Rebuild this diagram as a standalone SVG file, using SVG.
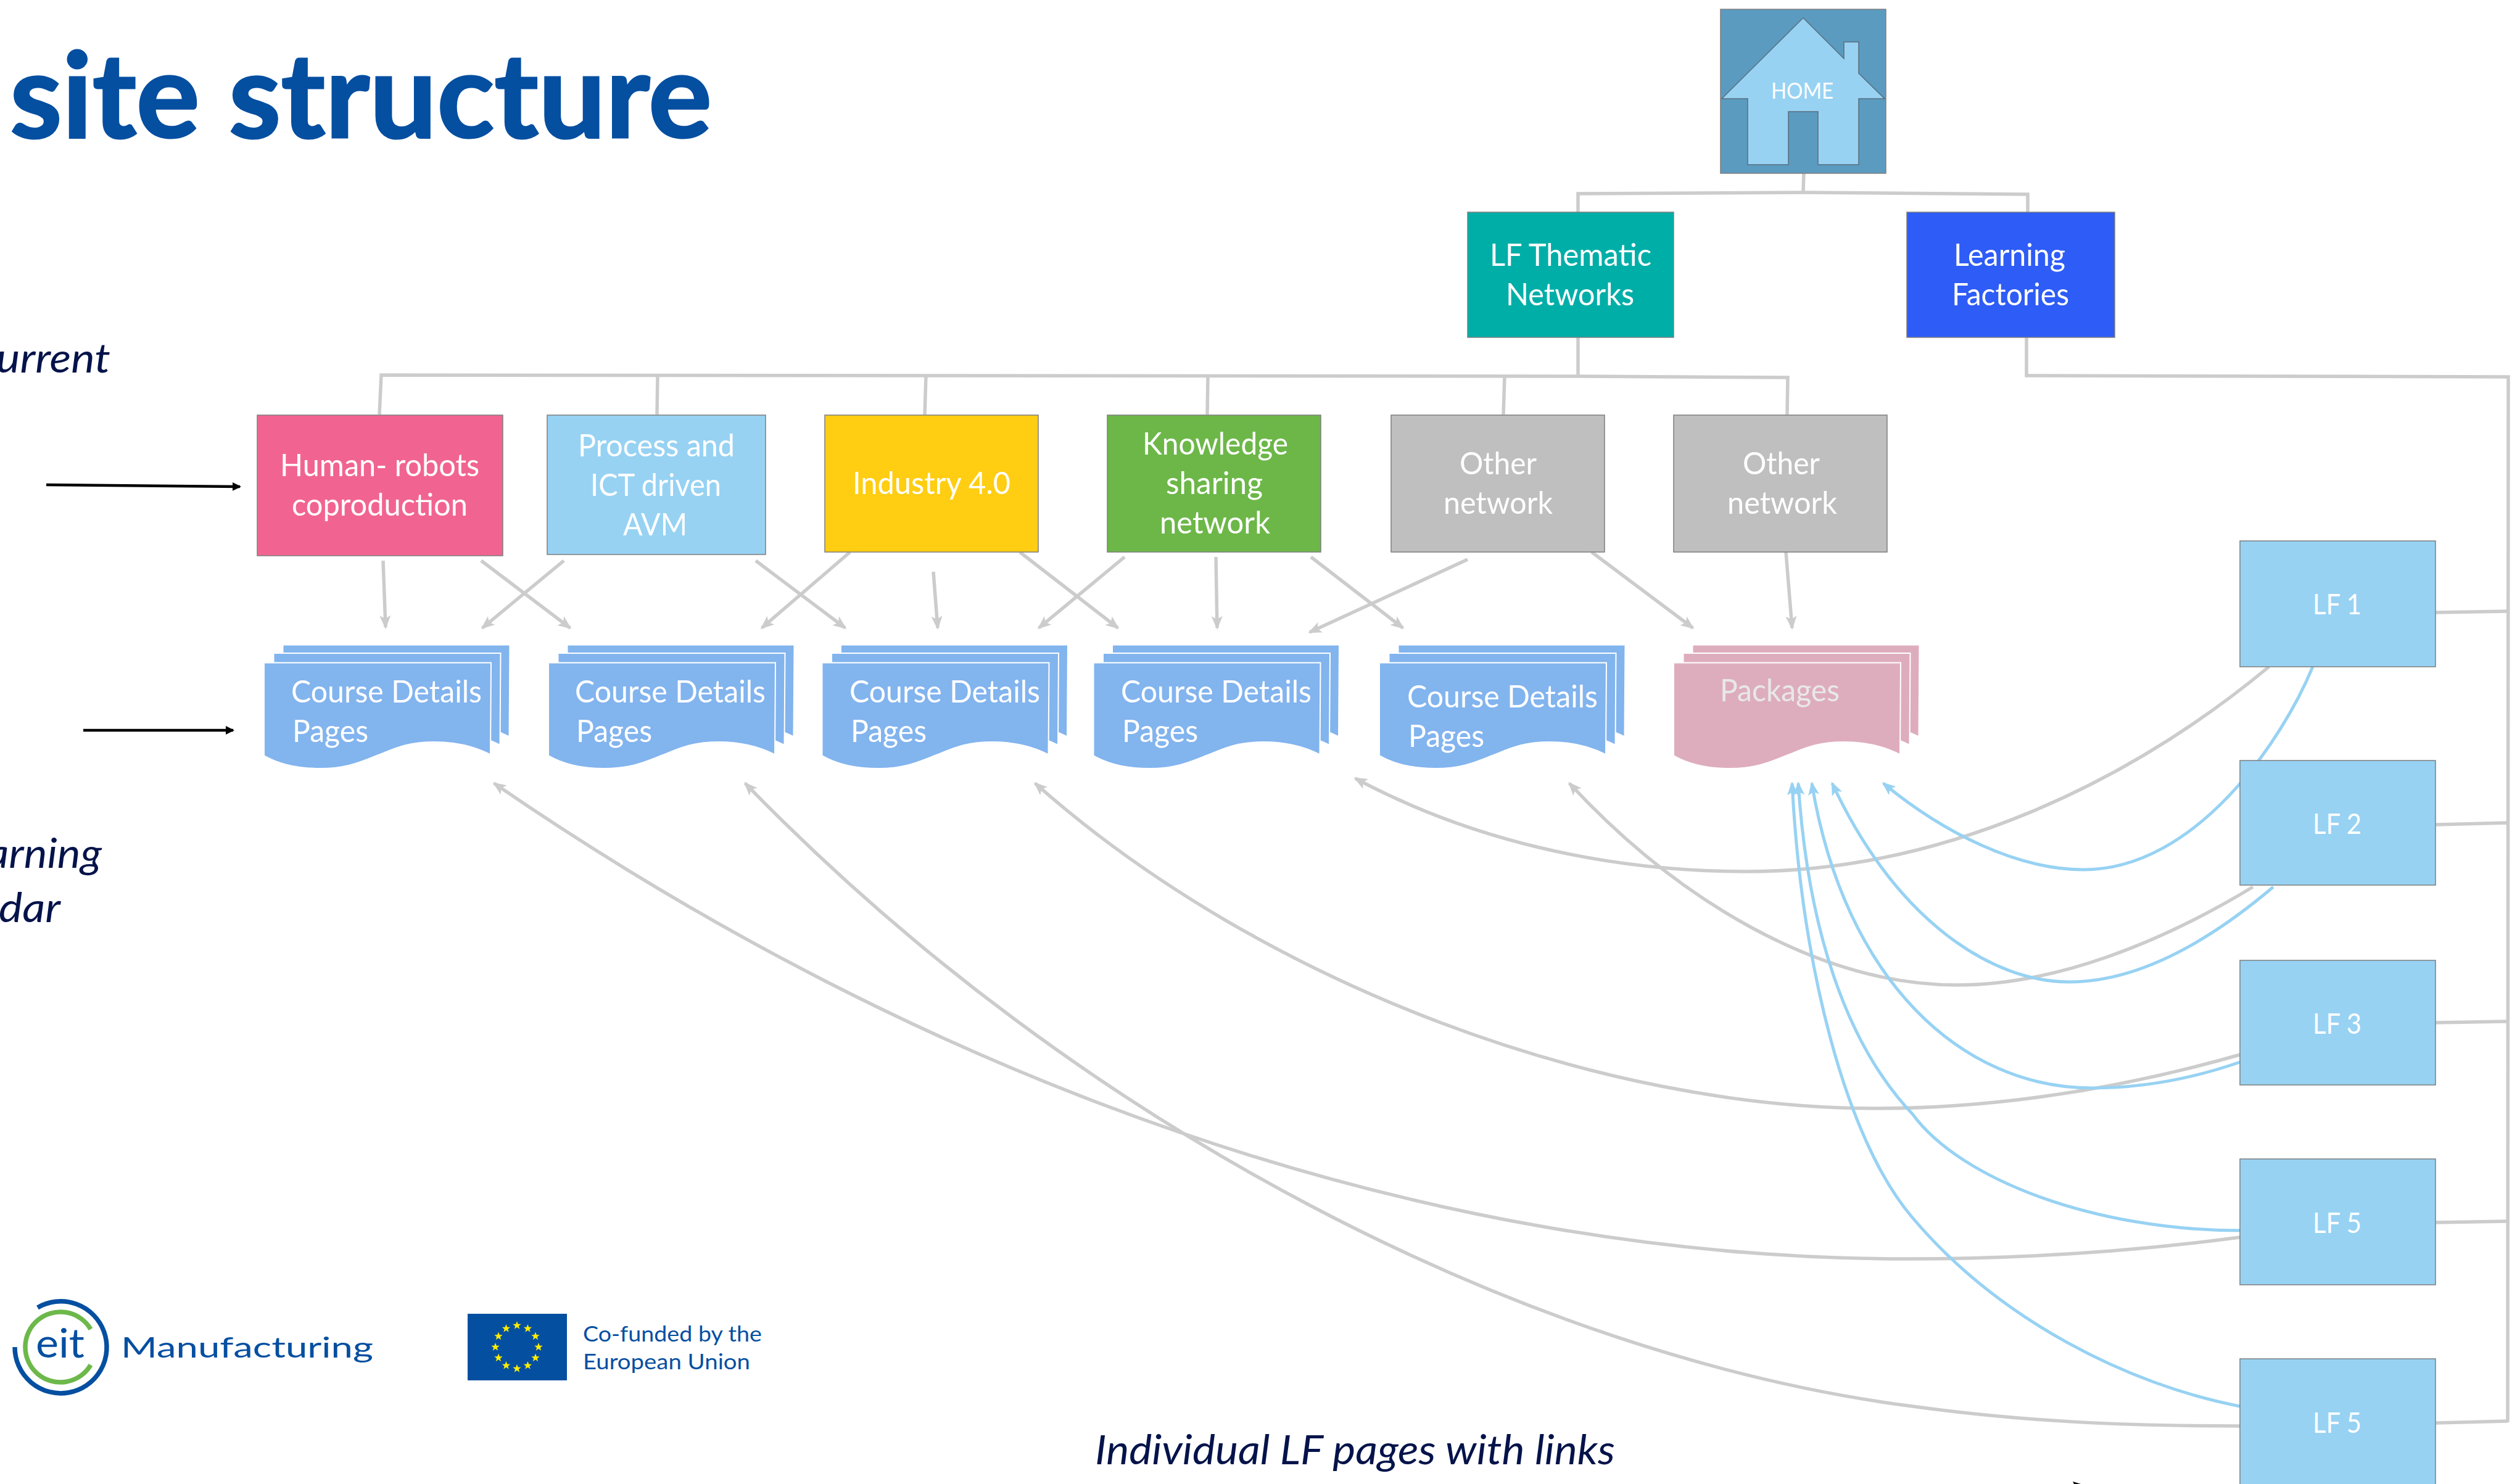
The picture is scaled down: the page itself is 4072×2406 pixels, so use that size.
<svg xmlns="http://www.w3.org/2000/svg" xmlns:xlink="http://www.w3.org/1999/xlink" width="4072" height="2406" viewBox="0 0 4072 2406">
<style>
text{font-family:Lato,"Liberation Sans",sans-serif}
.t{font-size:50px;fill:#fff}
.lf{font-size:46px;fill:#fff}
.it{font-size:65px;font-style:italic;fill:#04134A}
.box{stroke:#7F7F7F;stroke-width:1.5}
.g{fill:none;stroke:#CCCCCC;stroke-width:5.5}
.ga{fill:none;stroke:#CCCCCC;stroke-width:5.5;marker-end:url(#ag)}
.ba{fill:none;stroke:#97D2F3;stroke-width:5;marker-end:url(#ab)}
.k{fill:none;stroke:#000;stroke-width:4.5;marker-end:url(#ak)}
.sheet{stroke:#fff;stroke-width:2}
.blue{fill:#82B4EE}
.rose{fill:#DEADBD}
.lfb{fill:#97D2F3}
.eu{fill:#054FA1}
</style>
<defs>
<marker id="ag" markerUnits="userSpaceOnUse" markerWidth="26" markerHeight="22" refX="19" refY="11" orient="auto"><path d="M0,2 L22,11 L0,20 L5,11 Z" fill="#CCCCCC"/></marker>
<marker id="ab" markerUnits="userSpaceOnUse" markerWidth="26" markerHeight="22" refX="19" refY="11" orient="auto"><path d="M0,2 L22,11 L0,20 L5,11 Z" fill="#97D2F3"/></marker>
<marker id="ak" markerUnits="userSpaceOnUse" markerWidth="20" markerHeight="18" refX="12" refY="9" orient="auto"><path d="M0,2 L14,9 L0,16 Z" fill="#000"/></marker>
<path id="page" d="M0,0 H368 L367,149 C340,135 310,128.5 276,128.5 C230,128.5 210,140 184,150 C158,160 135,171.5 91,171.5 C55,171.5 25,165 0,150.5 Z"/>
<g id="stack">
<use xlink:href="#page" class="sheet" x="30.5" y="-29"/>
<use xlink:href="#page" class="sheet" x="15.5" y="-15.5"/>
<use xlink:href="#page" class="sheet"/>
</g>
<polygon id="star" points="0,-7 1.8,-2.2 6.7,-2.2 2.8,0.9 4.2,5.7 0,2.8 -4.2,5.7 -2.8,0.9 -6.7,-2.2 -1.8,-2.2" fill="#FFED00"/>
</defs>
<rect width="4072" height="2406" fill="#fff"/>

<text id="title" x="16" y="223" font-size="192" font-weight="700" fill="#054FA1" stroke="#054FA1" stroke-width="3" textLength="1138" lengthAdjust="spacingAndGlyphs">site structure</text>
<text class="it" x="-6" y="604" textLength="185" lengthAdjust="spacingAndGlyphs">urrent</text>
<text class="it" x="-22" y="1407" textLength="187" lengthAdjust="spacingAndGlyphs">arning</text>
<text class="it" x="-2" y="1495" textLength="100" lengthAdjust="spacingAndGlyphs">dar</text>
<text class="it" x="1775" y="2374" textLength="843" lengthAdjust="spacingAndGlyphs">Individual LF pages with links</text>

<g id="connectors">
<path class="g" d="M2924,279 L2923,312"/>
<path class="g" d="M2558,345 L2558,314 L2923,312 L3287,315 L3287,344"/>
<path class="g" d="M2558,547 L2558,610"/>
<path class="g" d="M615,672 L618,608 L2558,610 L2898,612 L2897,672"/>
<path class="g" d="M1066,609 L1065,672 M1501,609 L1499,672 M1958,610 L1957,672 M2439,610 L2437,672"/>
<path class="g" d="M3285,547 L3285,609 L4066,611 L4065,2306"/>
<path class="g" d="M3949,993 L4065,991 M3949,1337 L4065,1334 M3949,1658 L4065,1656 M3949,1982 L4065,1980 M3949,2307 L4065,2304"/>

<path class="ga" d="M621,909 L625,1017"/>
<path class="ga" d="M780,909 L924,1018"/>
<path class="ga" d="M914,909 L782,1018"/>
<path class="ga" d="M1225,909 L1370,1018"/>
<path class="ga" d="M1378,895 L1235,1018"/>
<path class="ga" d="M1513,927 L1520,1018"/>
<path class="ga" d="M1653,895 L1812,1018"/>
<path class="ga" d="M1823,903 L1684,1018"/>
<path class="ga" d="M1971,903 L1973,1018"/>
<path class="ga" d="M2125,903 L2274,1018"/>
<path class="ga" d="M2379,907 L2123,1025"/>
<path class="ga" d="M2580,895 L2744,1018"/>
<path class="ga" d="M2895,895 L2905,1018"/>

<path class="ga" d="M3678,1081 C3450,1270 3150,1413 2831,1413 C2600,1413 2380,1360 2197,1262"/>
<path class="ga" d="M3652,1438 C3500,1530 3330,1597 3173,1597 C2950,1597 2720,1460 2544,1270"/>
<path class="ga" d="M3631,1710 C3420,1770 3220,1797 3038,1797 C2600,1797 2050,1600 1678,1270"/>
<path class="ga" d="M3631,2006 C3450,2030 3270,2041 3090,2041 C2300,2041 1500,1750 801,1270"/>
<path class="ga" d="M3631,2312 C3450,2312 3280,2305 3100,2280 C2480,2200 1750,1830 1208,1270"/>

<path class="ba" d="M3749,1081 C3700,1200 3560,1410 3377,1410 C3270,1410 3150,1350 3053,1270"/>
<path class="ba" d="M3685,1438 C3600,1510 3480,1592 3354,1592 C3230,1592 3075,1495 2970,1270"/>
<path class="ba" d="M3631,1722 C3550,1750 3470,1764 3391,1764 C3180,1764 2990,1590 2937,1270"/>
<path class="ba" d="M3631,1995 C3400,1995 3180,1915 3100,1806 C2990,1690 2930,1500 2915,1270"/>
<path class="ba" d="M3631,2280 C3450,2245 3240,2140 3100,1974 C2990,1845 2920,1560 2905,1270"/>

<path class="k" d="M75,786 L389,789"/>
<path class="k" d="M135,1184 L378,1184"/>
<polygon points="3360,2402 3373,2406 3362,2406" fill="#000"/>
</g>

<g id="home">
<rect class="box" x="2789" y="15" width="268" height="266" fill="#5B9BC0"/>
<polygon points="2923,29 2989,95 2989,68 3013,68 3013,119 3055,160 3013,160 3013,267 2947,267 2947,181 2899,181 2899,267 2833,267 2833,160 2791,160" fill="#97D2F3" stroke="#5A6E7E" stroke-width="1.5"/>
<text x="2871" y="160" font-size="36" fill="#fff" textLength="101" lengthAdjust="spacingAndGlyphs">HOME</text>
</g>
<g id="thematic">
<rect class="box" x="2379" y="344" width="334" height="203" fill="#00AEA8"/>
<text class="t" x="2415" y="431" textLength="262" lengthAdjust="spacingAndGlyphs">LF Thematic</text>
<text class="t" x="2441" y="495" textLength="208" lengthAdjust="spacingAndGlyphs">Networks</text>
</g>
<g id="factories">
<rect class="box" x="3091" y="344" width="337" height="203" fill="#2E5CF6"/>
<text class="t" x="3167" y="431" textLength="181" lengthAdjust="spacingAndGlyphs">Learning</text>
<text class="t" x="3164" y="495" textLength="190" lengthAdjust="spacingAndGlyphs">Factories</text>
</g>

<g id="human">
<rect class="box" x="417" y="673" width="398" height="228" fill="#F16492"/>
<text class="t" x="454" y="772" textLength="323" lengthAdjust="spacingAndGlyphs">Human- robots</text>
<text class="t" x="473" y="836" textLength="285" lengthAdjust="spacingAndGlyphs">coproduction</text>
</g>
<g id="process">
<rect class="box" x="887" y="673" width="354" height="226" fill="#97D2F3"/>
<text class="t" x="937" y="740" textLength="254" lengthAdjust="spacingAndGlyphs">Process and</text>
<text class="t" x="957" y="804" textLength="212" lengthAdjust="spacingAndGlyphs">ICT driven</text>
<text class="t" x="1010" y="868" textLength="104" lengthAdjust="spacingAndGlyphs">AVM</text>
</g>
<g id="industry">
<rect class="box" x="1337" y="673" width="346" height="222" fill="#FFCD12"/>
<text class="t" x="1382" y="801" textLength="256" lengthAdjust="spacingAndGlyphs">Industry 4.0</text>
</g>
<g id="knowledge">
<rect class="box" x="1795" y="673" width="346" height="222" fill="#6CB748"/>
<text class="t" x="1852" y="737" textLength="236" lengthAdjust="spacingAndGlyphs">Knowledge</text>
<text class="t" x="1890" y="801" textLength="157" lengthAdjust="spacingAndGlyphs">sharing</text>
<text class="t" x="1880" y="865" textLength="179" lengthAdjust="spacingAndGlyphs">network</text>
</g>
<g id="other1">
<rect class="box" x="2255" y="673" width="346" height="222" fill="#BFBFBF"/>
<text class="t" x="2366" y="769" textLength="125" lengthAdjust="spacingAndGlyphs">Other</text>
<text class="t" x="2340" y="833" textLength="177" lengthAdjust="spacingAndGlyphs">network</text>
</g>
<g id="other2">
<rect class="box" x="2713" y="673" width="346" height="222" fill="#BFBFBF"/>
<text class="t" x="2825" y="769" textLength="125" lengthAdjust="spacingAndGlyphs">Other</text>
<text class="t" x="2800" y="833" textLength="178" lengthAdjust="spacingAndGlyphs">network</text>
</g>

<g id="doc1" class="blue"><use xlink:href="#stack" x="428" y="1074.5"/>
<text class="t" x="472" y="1139" textLength="309" lengthAdjust="spacingAndGlyphs">Course Details</text>
<text class="t" x="474" y="1203" textLength="123" lengthAdjust="spacingAndGlyphs">Pages</text></g>
<g id="doc2" class="blue"><use xlink:href="#stack" x="889" y="1074.5"/>
<text class="t" x="932" y="1139" textLength="309" lengthAdjust="spacingAndGlyphs">Course Details</text>
<text class="t" x="934" y="1203" textLength="123" lengthAdjust="spacingAndGlyphs">Pages</text></g>
<g id="doc3" class="blue"><use xlink:href="#stack" x="1332.5" y="1074.5"/>
<text class="t" x="1377" y="1139" textLength="309" lengthAdjust="spacingAndGlyphs">Course Details</text>
<text class="t" x="1379" y="1203" textLength="123" lengthAdjust="spacingAndGlyphs">Pages</text></g>
<g id="doc4" class="blue"><use xlink:href="#stack" x="1772.5" y="1074.5"/>
<text class="t" x="1817" y="1139" textLength="309" lengthAdjust="spacingAndGlyphs">Course Details</text>
<text class="t" x="1819" y="1203" textLength="123" lengthAdjust="spacingAndGlyphs">Pages</text></g>
<g id="doc5" class="blue"><use xlink:href="#stack" x="2236" y="1074.5"/>
<text class="t" x="2281" y="1147" textLength="309" lengthAdjust="spacingAndGlyphs">Course Details</text>
<text class="t" x="2283" y="1211" textLength="123" lengthAdjust="spacingAndGlyphs">Pages</text></g>
<g id="packages" class="rose"><use xlink:href="#stack" x="2713" y="1074.5"/>
<text x="2788" y="1137" font-size="50" style="fill:#E8E8E8" textLength="194" lengthAdjust="spacingAndGlyphs">Packages</text></g>

<g id="lf1"><rect class="box lfb" x="3631" y="877" width="317" height="204"/><text class="lf" x="3749" y="996" textLength="79" lengthAdjust="spacingAndGlyphs">LF 1</text></g>
<g id="lf2"><rect class="box lfb" x="3631" y="1233" width="317" height="202"/><text class="lf" x="3749" y="1352" textLength="79" lengthAdjust="spacingAndGlyphs">LF 2</text></g>
<g id="lf3"><rect class="box lfb" x="3631" y="1557" width="317" height="202"/><text class="lf" x="3749" y="1676" textLength="79" lengthAdjust="spacingAndGlyphs">LF 3</text></g>
<g id="lf5a"><rect class="box lfb" x="3631" y="1879" width="317" height="204"/><text class="lf" x="3749" y="1999" textLength="79" lengthAdjust="spacingAndGlyphs">LF 5</text></g>
<g id="lf5b"><rect class="box lfb" x="3631" y="2203" width="317" height="210"/><text class="lf" x="3749" y="2323" textLength="79" lengthAdjust="spacingAndGlyphs">LF 5</text></g>

<g id="eit-logo">
<path d="M61,2120 A74.5,74.5 0 1 1 24,2184" fill="none" stroke="#054FA1" stroke-width="7.5"/>
<path d="M147,2155 A57,57 0 1 0 147,2213" fill="none" stroke="#6DB84A" stroke-width="7.5"/>
<text x="58" y="2201" font-size="66" fill="#054FA1" textLength="79" lengthAdjust="spacingAndGlyphs">eit</text>
<text x="196" y="2201" font-size="47" fill="#054FA1" textLength="409" lengthAdjust="spacingAndGlyphs">Manufacturing</text>
</g>
<g id="eu-logo">
<rect x="758" y="2130" width="161" height="108" class="eu"/>
<use xlink:href="#star" x="838" y="2149"/><use xlink:href="#star" x="855.5" y="2154"/><use xlink:href="#star" x="868" y="2166.5"/><use xlink:href="#star" x="873" y="2184"/><use xlink:href="#star" x="868" y="2201.5"/><use xlink:href="#star" x="855.5" y="2214"/><use xlink:href="#star" x="838" y="2219"/><use xlink:href="#star" x="820.5" y="2214"/><use xlink:href="#star" x="808" y="2201.5"/><use xlink:href="#star" x="803" y="2184"/><use xlink:href="#star" x="808" y="2166.5"/><use xlink:href="#star" x="820.5" y="2154"/>
<text x="945" y="2175" font-size="35" fill="#054FA1" textLength="290" lengthAdjust="spacingAndGlyphs">Co-funded by the</text>
<text x="945" y="2220" font-size="35" fill="#054FA1" textLength="271" lengthAdjust="spacingAndGlyphs">European Union</text>
</g>
</svg>
